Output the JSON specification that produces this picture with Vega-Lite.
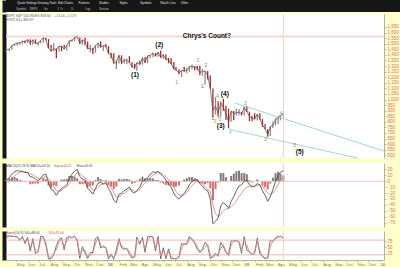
{
"$schema":"https://vega.github.io/schema/vega-lite/v6.json",
"background":"#ffffcc",
"padding":{"left":0,"top":0,"right":0,"bottom":0},
"spacing":0,
"config":{"view":{"stroke":null},"font":"Liberation Sans","axis":{"labelOverlap":false,"labelBound":false,"labelFlush":false}},
"datasets":{
"px":[
{"d":"2007-04-05","o":1420,"h":1445,"l":1416,"c":1443.8,"m":2,"s":-2,"hist":4,"k":96,"dd":90},
{"d":"2007-04-13","o":1444,"h":1453,"l":1432,"c":1452.9,"m":6,"s":1,"hist":5,"k":97,"dd":95},
{"d":"2007-04-20","o":1453,"h":1485,"l":1444,"c":1484.4,"m":12,"s":5,"hist":7,"k":96,"dd":95},
{"d":"2007-04-27","o":1484,"h":1498,"l":1479,"c":1494.1,"m":16,"s":9,"hist":7,"k":94,"dd":95},
{"d":"2007-05-04","o":1494,"h":1510,"l":1481,"c":1505.6,"m":18,"s":13,"hist":5,"k":93,"dd":93},
{"d":"2007-05-11","o":1505,"h":1513,"l":1490,"c":1505.9,"m":17,"s":15,"hist":2,"k":79,"dd":84},
{"d":"2007-05-18","o":1506,"h":1523,"l":1498,"c":1522.8,"m":17,"s":16,"hist":1,"k":95,"dd":88},
{"d":"2007-05-25","o":1522,"h":1529,"l":1505,"c":1515.7,"m":15,"s":16,"hist":-1,"k":66,"dd":76},
{"d":"2007-06-01","o":1516,"h":1540,"l":1507,"c":1536.3,"m":15,"s":15,"hist":0,"k":91,"dd":82},
{"d":"2007-06-08","o":1536,"h":1540,"l":1490,"c":1507.7,"m":8,"s":13,"hist":-5,"k":35,"dd":50},
{"d":"2007-06-15","o":1508,"h":1538,"l":1491,"c":1532.9,"m":7,"s":11,"hist":-4,"k":86,"dd":70},
{"d":"2007-06-22","o":1533,"h":1540,"l":1500,"c":1502.6,"m":4,"s":8,"hist":-4,"k":25,"dd":40},
{"d":"2007-06-29","o":1502,"h":1517,"l":1484,"c":1503.4,"m":1,"s":5,"hist":-4,"k":34,"dd":30},
{"d":"2007-07-06","o":1503,"h":1531,"l":1503,"c":1530.4,"m":5,"s":4,"hist":1,"k":95,"dd":80},
{"d":"2007-07-13","o":1530,"h":1556,"l":1508,"c":1552.5,"m":11,"s":6,"hist":5,"k":95,"dd":93},
{"d":"2007-07-20","o":1552,"h":1555,"l":1529,"c":1534.1,"m":12,"s":9,"hist":3,"k":59,"dd":70},
{"d":"2007-07-27","o":1534,"h":1542,"l":1458,"c":1458.9,"m":-2,"s":5,"hist":-7,"k":3,"dd":15},
{"d":"2007-08-03","o":1459,"h":1489,"l":1433,"c":1433.1,"m":-14,"s":-3,"hist":-11,"k":5,"dd":8},
{"d":"2007-08-10","o":1433,"h":1504,"l":1432,"c":1453.6,"m":-16,"s":-9,"hist":-7,"k":19,"dd":25},
{"d":"2007-08-17","o":1453,"h":1456,"l":1370,"c":1445.9,"m":-24,"s":-16,"hist":-8,"k":57,"dd":40},
{"d":"2007-08-24","o":1446,"h":1480,"l":1430,"c":1479.4,"m":-17,"s":-17,"hist":0,"k":82,"dd":72},
{"d":"2007-08-31","o":1479,"h":1481,"l":1432,"c":1474.0,"m":-12,"s":-15,"hist":3,"k":90,"dd":85},
{"d":"2007-09-07","o":1474,"h":1488,"l":1450,"c":1453.6,"m":-9,"s":-12,"hist":3,"k":41,"dd":55},
{"d":"2007-09-14","o":1453,"h":1486,"l":1439,"c":1484.3,"m":-6,"s":-10,"hist":4,"k":90,"dd":75},
{"d":"2007-09-21","o":1484,"h":1530,"l":1471,"c":1525.8,"m":5,"s":-4,"hist":9,"k":95,"dd":93},
{"d":"2007-09-28","o":1526,"h":1539,"l":1516,"c":1526.8,"m":12,"s":3,"hist":9,"k":88,"dd":90},
{"d":"2007-10-05","o":1527,"h":1560,"l":1521,"c":1557.6,"m":17,"s":9,"hist":8,"k":97,"dd":94},
{"d":"2007-10-12","o":1558,"h":1576,"l":1546,"c":1561.8,"m":20,"s":15,"hist":5,"k":76,"dd":84},
{"d":"2007-10-19","o":1562,"h":1564,"l":1500,"c":1500.6,"m":8,"s":13,"hist":-5,"k":5,"dd":25},
{"d":"2007-10-26","o":1500,"h":1536,"l":1490,"c":1535.3,"m":4,"s":9,"hist":-5,"k":53,"dd":38},
{"d":"2007-11-02","o":1535,"h":1553,"l":1489,"c":1509.7,"m":2,"s":6,"hist":-4,"k":28,"dd":40},
{"d":"2007-11-09","o":1510,"h":1520,"l":1452,"c":1453.7,"m":-12,"s":-2,"hist":-10,"k":5,"dd":12},
{"d":"2007-11-16","o":1454,"h":1493,"l":1420,"c":1458.7,"m":-16,"s":-8,"hist":-8,"k":29,"dd":20},
{"d":"2007-11-23","o":1459,"h":1463,"l":1406,"c":1440.7,"m":-22,"s":-15,"hist":-7,"k":30,"dd":25},
{"d":"2007-11-30","o":1441,"h":1488,"l":1419,"c":1481.1,"m":-12,"s":-14,"hist":2,"k":86,"dd":65},
{"d":"2007-12-07","o":1481,"h":1508,"l":1460,"c":1504.7,"m":-3,"s":-10,"hist":7,"k":94,"dd":90},
{"d":"2007-12-14","o":1505,"h":1523,"l":1467,"c":1468.0,"m":-2,"s":-6,"hist":4,"k":47,"dd":60},
{"d":"2007-12-21","o":1468,"h":1485,"l":1435,"c":1484.5,"m":-4,"s":-5,"hist":1,"k":56,"dd":50},
{"d":"2007-12-28","o":1484,"h":1498,"l":1468,"c":1478.5,"m":-2,"s":-4,"hist":2,"k":49,"dd":52},
{"d":"2008-01-04","o":1478,"h":1478,"l":1411,"c":1411.6,"m":-12,"s":-6,"hist":-6,"k":3,"dd":15},
{"d":"2008-01-11","o":1412,"h":1418,"l":1370,"c":1401.0,"m":-20,"s":-11,"hist":-9,"k":24,"dd":15},
{"d":"2008-01-18","o":1401,"h":1415,"l":1325,"c":1325.2,"m":-32,"s":-19,"hist":-13,"k":2,"dd":10},
{"d":"2008-01-25","o":1325,"h":1355,"l":1270,"c":1330.6,"m":-36,"s":-27,"hist":-9,"k":41,"dd":25},
{"d":"2008-02-01","o":1331,"h":1396,"l":1322,"c":1395.4,"m":-22,"s":-26,"hist":4,"k":86,"dd":70},
{"d":"2008-02-08","o":1395,"h":1396,"l":1317,"c":1331.3,"m":-20,"s":-23,"hist":3,"k":49,"dd":60},
{"d":"2008-02-15","o":1331,"h":1368,"l":1322,"c":1350.0,"m":-16,"s":-20,"hist":4,"k":42,"dd":45},
{"d":"2008-02-22","o":1350,"h":1367,"l":1315,"c":1353.1,"m":-13,"s":-17,"hist":4,"k":47,"dd":45},
{"d":"2008-02-29","o":1353,"h":1389,"l":1330,"c":1330.6,"m":-10,"s":-13,"hist":3,"k":21,"dd":35},
{"d":"2008-03-07","o":1330,"h":1336,"l":1286,"c":1293.4,"m":-18,"s":-14,"hist":-4,"k":7,"dd":12},
{"d":"2008-03-14","o":1293,"h":1321,"l":1274,"c":1288.1,"m":-20,"s":-17,"hist":-3,"k":12,"dd":12},
{"d":"2008-03-20","o":1288,"h":1334,"l":1256,"c":1329.5,"m":-16,"s":-17,"hist":1,"k":92,"dd":65},
{"d":"2008-03-28","o":1330,"h":1349,"l":1312,"c":1315.2,"m":-10,"s":-14,"hist":4,"k":63,"dd":75},
{"d":"2008-04-04","o":1315,"h":1381,"l":1312,"c":1370.4,"m":0,"s":-8,"hist":8,"k":91,"dd":85},
{"d":"2008-04-11","o":1370,"h":1380,"l":1328,"c":1332.8,"m":2,"s":-3,"hist":5,"k":30,"dd":45},
{"d":"2008-04-18","o":1333,"h":1395,"l":1324,"c":1390.3,"m":6,"s":1,"hist":5,"k":94,"dd":75},
{"d":"2008-04-25","o":1390,"h":1399,"l":1370,"c":1397.8,"m":12,"s":6,"hist":6,"k":95,"dd":94},
{"d":"2008-05-02","o":1398,"h":1422,"l":1379,"c":1413.9,"m":16,"s":11,"hist":5,"k":92,"dd":93},
{"d":"2008-05-09","o":1414,"h":1416,"l":1386,"c":1388.3,"m":15,"s":13,"hist":2,"k":35,"dd":50},
{"d":"2008-05-16","o":1388,"h":1426,"l":1382,"c":1425.4,"m":17,"s":15,"hist":2,"k":95,"dd":80},
{"d":"2008-05-23","o":1425,"h":1440,"l":1373,"c":1375.9,"m":12,"s":14,"hist":-2,"k":4,"dd":20},
{"d":"2008-05-30","o":1376,"h":1406,"l":1362,"c":1400.4,"m":8,"s":12,"hist":-4,"k":49,"dd":35},
{"d":"2008-06-06","o":1400,"h":1404,"l":1357,"c":1360.7,"m":2,"s":8,"hist":-6,"k":4,"dd":18},
{"d":"2008-06-13","o":1361,"h":1371,"l":1325,"c":1360.0,"m":-4,"s":3,"hist":-7,"k":44,"dd":30},
{"d":"2008-06-20","o":1360,"h":1370,"l":1315,"c":1317.9,"m":-10,"s":-3,"hist":-7,"k":3,"dd":15},
{"d":"2008-06-27","o":1318,"h":1336,"l":1272,"c":1278.4,"m":-20,"s":-10,"hist":-10,"k":6,"dd":5},
{"d":"2008-07-03","o":1278,"h":1292,"l":1261,"c":1262.9,"m":-26,"s":-17,"hist":-9,"k":2,"dd":4},
{"d":"2008-07-11","o":1263,"h":1270,"l":1225,"c":1239.5,"m":-30,"s":-23,"hist":-7,"k":13,"dd":8},
{"d":"2008-07-18","o":1239,"h":1263,"l":1200,"c":1260.7,"m":-25,"s":-25,"hist":0,"k":66,"dd":45},
{"d":"2008-07-25","o":1261,"h":1291,"l":1248,"c":1257.8,"m":-20,"s":-23,"hist":3,"k":63,"dd":65},
{"d":"2008-08-01","o":1258,"h":1284,"l":1234,"c":1260.3,"m":-14,"s":-19,"hist":5,"k":66,"dd":62},
{"d":"2008-08-08","o":1260,"h":1297,"l":1248,"c":1296.3,"m":-6,"s":-13,"hist":7,"k":95,"dd":85},
{"d":"2008-08-15","o":1296,"h":1313,"l":1274,"c":1298.2,"m":0,"s":-7,"hist":7,"k":81,"dd":88},
{"d":"2008-08-22","o":1298,"h":1299,"l":1262,"c":1292.2,"m":2,"s":-3,"hist":5,"k":68,"dd":72},
{"d":"2008-08-29","o":1292,"h":1300,"l":1261,"c":1282.8,"m":3,"s":0,"hist":3,"k":42,"dd":55},
{"d":"2008-09-05","o":1283,"h":1304,"l":1217,"c":1242.3,"m":-4,"s":-1,"hist":-3,"k":29,"dd":35},
{"d":"2008-09-12","o":1242,"h":1274,"l":1212,"c":1251.7,"m":-8,"s":-4,"hist":-4,"k":43,"dd":38},
{"d":"2008-09-19","o":1252,"h":1256,"l":1133,"c":1255.1,"m":-14,"s":-9,"hist":-5,"k":71,"dd":50},
{"d":"2008-09-26","o":1255,"h":1256,"l":1180,"c":1213.3,"m":-16,"s":-13,"hist":-3,"k":57,"dd":62},
{"d":"2008-10-03","o":1213,"h":1215,"l":1097,"c":1099.2,"m":-30,"s":-18,"hist":-12,"k":4,"dd":20},
{"d":"2008-10-10","o":1099,"h":1099,"l":840,"c":899.2,"m":-72,"s":-40,"hist":-32,"k":14,"dd":8},
{"d":"2008-10-17","o":899,"h":1024,"l":866,"c":940.6,"m":-68,"s":-55,"hist":-13,"k":27,"dd":20},
{"d":"2008-10-24","o":941,"h":985,"l":845,"c":876.8,"m":-62,"s":-60,"hist":-2,"k":14,"dd":20},
{"d":"2008-10-31","o":877,"h":984,"l":846,"c":968.8,"m":-42,"s":-56,"hist":14,"k":70,"dd":45},
{"d":"2008-11-07","o":969,"h":1007,"l":899,"c":931.0,"m":-36,"s":-50,"hist":14,"k":53,"dd":62},
{"d":"2008-11-14","o":931,"h":943,"l":818,"c":873.3,"m":-40,"s":-47,"hist":7,"k":29,"dd":35},
{"d":"2008-11-21","o":873,"h":917,"l":741,"c":800.0,"m":-46,"s":-46,"hist":0,"k":22,"dd":15},
{"d":"2008-11-28","o":800,"h":896,"l":800,"c":896.2,"m":-34,"s":-43,"hist":9,"k":77,"dd":60},
{"d":"2008-12-05","o":896,"h":897,"l":815,"c":876.1,"m":-26,"s":-39,"hist":13,"k":77,"dd":75},
{"d":"2008-12-12","o":876,"h":918,"l":857,"c":879.7,"m":-16,"s":-33,"hist":17,"k":78,"dd":76},
{"d":"2008-12-19","o":880,"h":916,"l":860,"c":887.9,"m":-8,"s":-26,"hist":18,"k":71,"dd":75},
{"d":"2008-12-26","o":888,"h":888,"l":857,"c":872.8,"m":-6,"s":-20,"hist":14,"k":26,"dd":45},
{"d":"2009-01-02","o":873,"h":934,"l":857,"c":931.8,"m":0,"s":-14,"hist":14,"k":94,"dd":70},
{"d":"2009-01-09","o":932,"h":943,"l":889,"c":890.4,"m":2,"s":-10,"hist":12,"k":39,"dd":60},
{"d":"2009-01-16","o":890,"h":891,"l":804,"c":850.1,"m":-6,"s":-8,"hist":2,"k":33,"dd":30},
{"d":"2009-01-23","o":850,"h":852,"l":805,"c":832.0,"m":-10,"s":-8,"hist":-2,"k":20,"dd":25},
{"d":"2009-01-30","o":832,"h":877,"l":822,"c":825.9,"m":-8,"s":-8,"hist":0,"k":25,"dd":35},
{"d":"2009-02-06","o":826,"h":870,"l":812,"c":868.6,"m":-4,"s":-7,"hist":3,"k":88,"dd":70},
{"d":"2009-02-13","o":869,"h":876,"l":818,"c":826.8,"m":-6,"s":-6,"hist":0,"k":23,"dd":40},
{"d":"2009-02-20","o":827,"h":827,"l":754,"c":770.1,"m":-16,"s":-9,"hist":-7,"k":13,"dd":15},
{"d":"2009-02-27","o":770,"h":780,"l":735,"c":735.1,"m":-24,"s":-14,"hist":-10,"k":3,"dd":8},
{"d":"2009-03-06","o":735,"h":735,"l":667,"c":683.4,"m":-34,"s":-20,"hist":-14,"k":10,"dd":6},
{"d":"2009-03-13","o":683,"h":759,"l":672,"c":756.6,"m":-26,"s":-22,"hist":-4,"k":79,"dd":50},
{"d":"2009-03-20","o":757,"h":804,"l":745,"c":768.5,"m":-14,"s":-20,"hist":6,"k":74,"dd":78},
{"d":"2009-03-27","o":769,"h":833,"l":767,"c":815.9,"m":0,"s":-14,"hist":14,"k":89,"dd":84},
{"d":"2009-04-03","o":816,"h":845,"l":779,"c":842.5,"m":10,"s":-6,"hist":16,"k":95,"dd":92},
{"d":"2009-04-09","o":842,"h":857,"l":814,"c":856.6,"m":15,"s":2,"hist":13,"k":95,"dd":95},
{"d":"2009-04-17","o":857,"h":875,"l":826,"c":869.6,"m":18,"s":8,"hist":10,"k":88,"dd":92}
],
"notes":[
{"pn":"px","k":"head","d":"2007-04-05","v":1748,"t":"$SPX S&P 500 INDEX 869.60"},
{"pn":"px","k":"headg","d":"2007-08-12","v":1748,"t":"+13.04 +1.52%"},
{"pn":"px","k":"head","d":"2007-04-05","v":1712,"t":"H:875.63 L:860.87"},
{"pn":"px","k":"title","d":"2008-09-24","v":1569,"t":"Chrys's Count?"},
{"pn":"px","k":"wave","d":"2008-03-15","v":1223,"t":"(1)"},
{"pn":"px","k":"wave","d":"2008-05-19","v":1491,"t":"(2)"},
{"pn":"px","k":"wave","d":"2008-10-31","v":763,"t":"(3)"},
{"pn":"px","k":"wave","d":"2008-11-11","v":1047,"t":"(4)"},
{"pn":"px","k":"wave","d":"2009-05-31","v":532,"t":"(5)"},
{"pn":"px","k":"minor","d":"2008-07-05","v":1157,"t":"1"},
{"pn":"px","k":"minor","d":"2008-08-31","v":1352,"t":"2"},
{"pn":"px","k":"minor","d":"2008-10-16","v":805,"t":"3"},
{"pn":"px","k":"minor","d":"2008-10-23","v":1029,"t":"4"},
{"pn":"px","k":"minor","d":"2008-10-28","v":828,"t":"5"},
{"pn":"px","k":"minor","d":"2008-11-26","v":718,"t":"1"},
{"pn":"px","k":"minor","d":"2009-01-05","v":972,"t":"2"},
{"pn":"px","k":"minor","d":"2009-02-28","v":644,"t":"3"},
{"pn":"px","k":"minor","d":"2009-04-11","v":882,"t":"4"},
{"pn":"px","k":"minor","d":"2009-05-17","v":592,"t":"5"},
{"pn":"px","k":"sub","d":"2008-09-12","v":1121,"t":"1"},
{"pn":"px","k":"sub","d":"2008-09-21","v":1307,"t":"2"},
{"pn":"px","k":"sub","d":"2008-10-10","v":835,"t":"1"},
{"pn":"macd","k":"head","d":"2007-04-05","v":25.9,"t":"MACD(12,26,9) MACD=18.10"},
{"pn":"macd","k":"headr","d":"2007-08-10","v":25.9,"t":"Signal=8.05"},
{"pn":"macd","k":"head","d":"2007-10-11","v":25.9,"t":"Hist=10.05"},
{"pn":"st","k":"head","d":"2007-04-05","v":108.9,"t":"Stoch(14,3) %K=88.00"},
{"pn":"st","k":"headr","d":"2007-07-27","v":108.9,"t":"%D=92.00"}
],
"tl":[
{"ln":"up","d":"2008-12-08","p":969},
{"ln":"up","d":"2010-01-12","p":538},
{"ln":"lo","d":"2008-11-26","p":730},
{"ln":"lo","d":"2009-11-01","p":476}
],
"menu":[
{"row":"menu","item":"Quote Settings"},
{"row":"menu","item":"Drawing Tools"},
{"row":"menu","item":"Edit Charts"},
{"row":"menu","item":"Patterns"},
{"row":"menu","item":"Studies"},
{"row":"menu","item":"Styles"},
{"row":"menu","item":"Symbols"},
{"row":"menu","item":"Watch Lists"},
{"row":"menu","item":"Other"},
{"row":"bar","item":"Symbol:"},
{"row":"bar","item":"$SPX"},
{"row":"bar","item":"Go"},
{"row":"bar","item":"1 Yr"},
{"row":"bar","item":"D"},
{"row":"bar","item":"Log"},
{"row":"bar","item":"Stream"}
]
},
"vconcat":[
{
"width":396,"height":12,
"view":{"fill":"#161616","stroke":null},
"layer":[
{"data":{"name":"menu"},"transform":[{"filter":"datum.row=='menu'"}],
"mark":{"type":"text","align":"left","baseline":"middle","fontSize":3,"fill":"#e4e4e4"},
"encoding":{"x":{"field":"item","type":"nominal","sort":null,"axis":null,"scale":{"type":"point","range":[1,185]}},
"y":{"field":"row","type":"nominal","scale":{"type":"point","domain":["menu","bar"]},
"axis":{"orient":"left","labels":false,"ticks":false,"domainColor":"#161616","domainWidth":4,"offset":2,"minExtent":4,"maxExtent":4,"title":null,"grid":false}},
"text":{"field":"item"}}},
{"data":{"name":"menu"},"transform":[{"filter":"datum.row=='bar'"}],
"mark":{"type":"text","align":"left","baseline":"middle","fontSize":3,"fill":"#bbbbbb"},
"encoding":{"x":{"field":"item","type":"nominal","sort":null,"axis":null,"scale":{"type":"point","range":[3,100]}},
"y":{"field":"row","type":"nominal","axis":null,"scale":{"type":"point","domain":["menu","bar"]}},
"text":{"field":"item"}}}
],
"resolve":{"scale":{"x":"independent"},"axis":{"y":"independent"}}
},
{
"width":378,"height":144,
"view":{"fill":"white","stroke":null},
"resolve":{"axis":{"y":"independent"}},
"layer":[
{"data":{"name":"px"},"mark":{"type":"rule","strokeWidth":1.3},
"encoding":{"x":{"field":"d","type":"temporal","scale":{"domain":[{"year":2007,"month":4,"date":4},{"year":2010,"month":1,"date":12}]},"axis":null},
"y":{"field":"l","type":"quantitative","scale":{"domain":[476,1766],"nice":false,"zero":false},
"axis":{"orient":"right","tickCount":26,"labelExpr":"datum.value > 1650 ? '' : format(datum.value, ',')","tickOpacity":{"condition":{"test":"datum.value > 1650","value":0},"value":1},"labelOverlap":false,"labelFontSize":4.5,"labelColor":"#e46a6a","tickSize":2,"tickColor":"#e6a0a0","domainColor":"#b0b0b0","labelPadding":1,"grid":false,"title":null}},
"y2":{"field":"h"},
"color":{"condition":{"test":"datum.c < datum.o","value":"#a82a2a"},"value":"#8c8c8c"}}},
{"data":{"values":[{}]},"mark":{"type":"rule","color":"#fbd3d3","strokeWidth":2},
"encoding":{"y":{"datum":1565,"type":"quantitative",
"axis":{"orient":"left","labels":false,"ticks":false,"domainColor":"#161616","domainWidth":4,"offset":2,"minExtent":4,"maxExtent":4,"title":null,"grid":false}}}},
{"data":{"values":[{}]},"mark":{"type":"rule","color":"#f6c6c6","strokeWidth":0.8},
"encoding":{"x":{"datum":{"year":2009,"month":4,"date":17},"type":"temporal"}}},
{"data":{"name":"tl"},"mark":{"type":"line","color":"#93d3cf","strokeWidth":0.9},
"encoding":{"x":{"field":"d","type":"temporal"},
"y":{"field":"p","type":"quantitative","axis":null},"detail":{"field":"ln"}}},
{"data":{"name":"px"},"mark":{"type":"line","color":"#6a4444","strokeWidth":0.7},
"encoding":{"x":{"field":"d","type":"temporal"},
"y":{"field":"c","type":"quantitative","axis":null}}},
{"data":{"name":"notes"},"transform":[{"filter":"datum.pn=='px' && (datum.k=='head' || datum.k=='headg')"}],
"mark":{"type":"text","align":"left","baseline":"middle","fontSize":3.3},
"encoding":{"x":{"field":"d","type":"temporal"},"y":{"field":"v","type":"quantitative","axis":null},"text":{"field":"t"},
"fill":{"condition":{"test":"datum.k=='headg'","value":"#2f9e2f"},"value":"#555555"}}},
{"data":{"name":"notes"},"transform":[{"filter":"datum.k=='title'"}],
"mark":{"type":"text","align":"center","baseline":"middle","fontSize":6.5,"fontWeight":"bold","fill":"#111111"},
"encoding":{"x":{"field":"d","type":"temporal"},"y":{"field":"v","type":"quantitative","axis":null},"text":{"field":"t"}}},
{"data":{"name":"notes"},"transform":[{"filter":"datum.k=='wave'"}],
"mark":{"type":"text","align":"center","baseline":"middle","fontSize":6.6,"fontWeight":"bold","fill":"#111111"},
"encoding":{"x":{"field":"d","type":"temporal"},"y":{"field":"v","type":"quantitative","axis":null},"text":{"field":"t"}}},
{"data":{"name":"notes"},"transform":[{"filter":"datum.k=='minor' || datum.k=='sub'"}],
"mark":{"type":"text","align":"center","baseline":"middle","fontSize":5},
"encoding":{"x":{"field":"d","type":"temporal"},"y":{"field":"v","type":"quantitative","axis":null},"text":{"field":"t"},
"fill":{"condition":{"test":"datum.k=='sub'","value":"#c84040"},"value":"#6fa838"}}}
]
},
{
"width":378,"height":64,
"view":{"fill":"white","stroke":null},
"resolve":{"axis":{"y":"independent"}},
"layer":[
{"data":{"name":"px"},"mark":{"type":"rule","strokeWidth":2},
"encoding":{"x":{"field":"d","type":"temporal","scale":{"domain":[{"year":2007,"month":4,"date":4},{"year":2010,"month":1,"date":12}]},"axis":null},
"y":{"field":"hist","type":"quantitative","scale":{"domain":[-77.5,31],"nice":false,"zero":false},
"axis":{"orient":"right","tickCount":12,"labelExpr":"datum.value > 20 ? '' : format(datum.value, 'd')","tickOpacity":{"condition":{"test":"datum.value > 20","value":0},"value":1},"labelOverlap":false,"labelFontSize":4.5,"labelColor":"#e46a6a","tickSize":2,"tickColor":"#e6a0a0","domainColor":"#b0b0b0","labelPadding":1,"grid":false,"title":null}},
"y2":{"datum":0},
"color":{"condition":{"test":"datum.hist < 0","value":"#d46c6c"},"value":"#7c7c7c"}}},
{"data":{"values":[{}]},"mark":{"type":"rule","color":"#f0b4b4","strokeWidth":0.8},
"encoding":{"y":{"datum":0,"type":"quantitative",
"axis":{"orient":"left","labels":false,"ticks":false,"domainColor":"#161616","domainWidth":4,"offset":2,"minExtent":4,"maxExtent":4,"title":null,"grid":false}}}},
{"data":{"values":[{}]},"mark":{"type":"rule","color":"#f6c6c6","strokeWidth":0.8},
"encoding":{"x":{"datum":{"year":2009,"month":4,"date":17},"type":"temporal"}}},
{"data":{"name":"px"},"mark":{"type":"line","color":"#e07a7a","strokeWidth":0.8},
"encoding":{"x":{"field":"d","type":"temporal"},"y":{"field":"s","type":"quantitative","axis":null}}},
{"data":{"name":"px"},"mark":{"type":"line","color":"#3c3c3c","strokeWidth":0.8},
"encoding":{"x":{"field":"d","type":"temporal"},"y":{"field":"m","type":"quantitative","axis":null}}},
{"data":{"name":"notes"},"transform":[{"filter":"datum.pn=='macd'"}],
"mark":{"type":"text","align":"left","baseline":"middle","fontSize":3.3},
"encoding":{"x":{"field":"d","type":"temporal"},"y":{"field":"v","type":"quantitative","axis":null},"text":{"field":"t"},
"fill":{"condition":{"test":"datum.k=='headr'","value":"#d04a4a"},"value":"#444444"}}}
]
},
{
"width":378,"height":29,
"view":{"fill":"white","stroke":null},
"resolve":{"axis":{"y":"independent"}},
"layer":[
{"data":{"name":"px"},"mark":{"type":"line","color":"#555555","strokeWidth":0.8},
"encoding":{"x":{"field":"d","type":"temporal","scale":{"domain":[{"year":2007,"month":4,"date":4},{"year":2010,"month":1,"date":12}]},
"axis":{"orient":"bottom","tickCount":{"interval":"month","step":1},"labelExpr":"month(datum.value)==0 ? timeFormat(datum.value,'%y') : timeFormat(datum.value,'%b')","labelAlign":"left","labelBaseline":"top","labelFontSize":4.3,"labelColor":{"condition":{"test":"month(datum.value)==0","value":"#2a3fd0"},"value":"#7a7a8a"},"labelPadding":1,"tickSize":1.5,"tickColor":"#c0c0c0","domainColor":"#b0b0b0","labelOverlap":false,"grid":false,"title":null}},
"y":{"field":"k","type":"quantitative","scale":{"domain":[-1,117],"nice":false,"zero":false},
"axis":{"orient":"right","tickCount":24,"labelExpr":"(datum.value == 25 || datum.value == 50 || datum.value == 75) ? format(datum.value, 'd') : ''","tickOpacity":{"condition":{"test":"datum.value == 25 || datum.value == 50 || datum.value == 75","value":1},"value":0},"labelOverlap":false,"labelFontSize":4.5,"labelColor":"#e46a6a","tickSize":2,"tickColor":"#e6a0a0","domainColor":"#b0b0b0","labelPadding":1,"grid":false,"title":null}}}},
{"data":{"values":[{"v":80},{"v":20}]},"mark":{"type":"rule","color":"#e8a4a4","strokeWidth":0.8},
"encoding":{"y":{"field":"v","type":"quantitative",
"axis":{"orient":"left","labels":false,"ticks":false,"domainColor":"#161616","domainWidth":4,"offset":2,"minExtent":4,"maxExtent":4,"title":null,"grid":false}}}},
{"data":{"values":[{}]},"mark":{"type":"rule","color":"#f6c6c6","strokeWidth":0.8},
"encoding":{"x":{"datum":{"year":2009,"month":4,"date":17},"type":"temporal"}}},
{"data":{"name":"px"},"mark":{"type":"line","color":"#e07a7a","strokeWidth":0.8},
"encoding":{"x":{"field":"d","type":"temporal"},"y":{"field":"dd","type":"quantitative","axis":null}}},
{"data":{"name":"notes"},"transform":[{"filter":"datum.pn=='st'"}],
"mark":{"type":"text","align":"left","baseline":"middle","fontSize":3.3},
"encoding":{"x":{"field":"d","type":"temporal"},"y":{"field":"v","type":"quantitative","axis":null},"text":{"field":"t"},
"fill":{"condition":{"test":"datum.k=='headr'","value":"#d04a4a"},"value":"#444444"}}}
]
},
{
"width":396,"height":14,
"view":{"fill":"#161616","stroke":null},
"data":{"values":[]},
"mark":"rule",
"encoding":{"y":{"field":"a","type":"quantitative",
"axis":{"orient":"left","labels":false,"ticks":false,"domainColor":"#161616","domainWidth":4,"offset":2,"minExtent":4,"maxExtent":4,"title":null,"grid":false}}}
}
]
}
